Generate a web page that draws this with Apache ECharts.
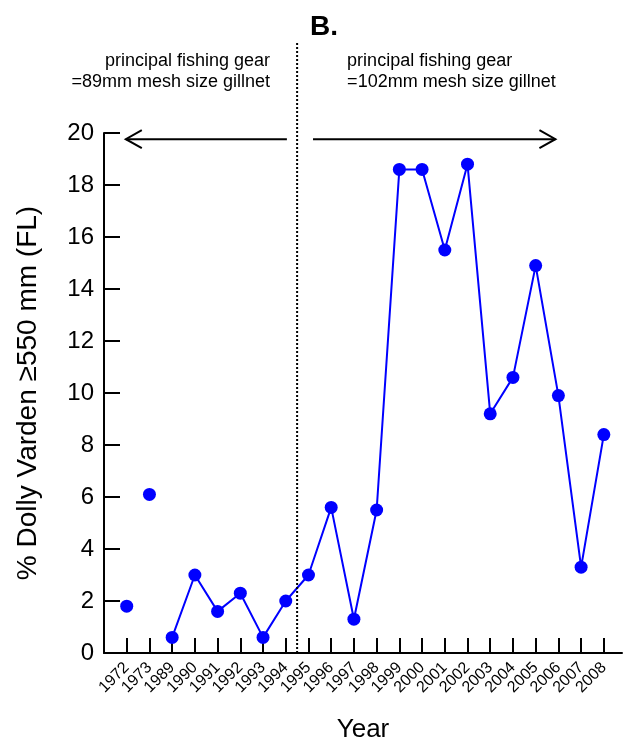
<!DOCTYPE html>
<html>
<head>
<meta charset="utf-8">
<script src="https://cdn.jsdelivr.net/npm/echarts@6/dist/echarts.min.js"></script>
<style>html,body{margin:0;padding:0;background:#fff}#c{width:624px;height:740px}</style>
</head>
<body>
<div id="c"></div>
<script>
// ---- data ----
var years = ['1972','1973','1989','1990','1991','1992','1993','1994','1995','1996','1997','1998','1999','2000','2001','2002','2003','2004','2005','2006','2007','2008'];
var pctLarge = [1.8, 6.1, 0.6, 3.0, 1.6, 2.3, 0.6, 2.0, 3.0, 5.6, 1.3, 5.5, 18.6, 18.6, 15.5, 18.8, 9.2, 10.6, 14.9, 9.9, 3.3, 8.4];
var joinedFromYear = '1989';           // points before this year are not joined by the line
var yTicks = [0, 2, 4, 6, 8, 10, 12, 14, 16, 18, 20];
var gearBreakBetween = ['1994', '1995'];
var leftGearText = ['principal fishing gear', '=89mm mesh size gillnet'];
var rightGearText = ['principal fishing gear', '=102mm mesh size gillnet'];
var arrowLevel = 19.76;
var leftArrowSpan = ['1972', '1994'];
var rightArrowSpan = ['1995', '2005'];

var FONT = '"Liberation Sans", Arial, Helvetica, sans-serif';
var BLUE = '#0000ff';
var joinIdx = years.indexOf(joinedFromYear);
var idxs = years.map(function (_, i) { return i; });
var loosePts = [], joinedPts = [];
pctLarge.forEach(function (v, i) { (i < joinIdx ? loosePts : joinedPts).push([i, v]); });

var chart = echarts.init(document.getElementById('c'), null, { renderer: 'canvas' });
chart.setOption({
  backgroundColor: '#fff',
  animation: false,
  title: {
    text: 'B.', left: 305, top: 8,
    textStyle: { fontFamily: FONT, fontSize: 28, fontWeight: 'bold', color: '#000' }
  },
  grid: { left: 104, right: 2, top: 133, bottom: 87, containLabel: false, outerBoundsMode: 'none' },
  xAxis: {
    type: 'value', min: -1, max: 21.8, interval: 1,
    splitLine: { show: false },
    axisLine: { show: true, onZero: false, lineStyle: { color: '#000', width: 2 } },
    axisTick: { show: true, inside: true, length: 15, customValues: idxs, lineStyle: { color: '#000', width: 2 } },
    axisLabel: {
      customValues: idxs, rotate: 45, margin: 12,
      fontFamily: FONT, fontSize: 16, color: '#000',
      formatter: function (v) { return years[Math.round(v)] || ''; }
    },
    name: 'Year', nameLocation: 'middle', nameGap: 64,
    nameTextStyle: { fontFamily: FONT, fontSize: 26, color: '#000' }
  },
  yAxis: {
    type: 'value', min: yTicks[0], max: yTicks[yTicks.length - 1], interval: 2,
    splitLine: { show: false },
    axisLine: { show: true, onZero: false, lineStyle: { color: '#000', width: 2 } },
    axisTick: { show: true, inside: true, length: 16, lineStyle: { color: '#000', width: 2 } },
    axisLabel: { margin: 10, fontFamily: FONT, fontSize: 24, color: '#000' },
    name: '% Dolly Varden \u2265550 mm (FL)', nameLocation: 'middle', nameGap: 62, nameRotate: 90,
    nameTextStyle: { fontFamily: FONT, fontSize: 28, color: '#000' }
  },
  series: [
    { type: 'scatter', data: loosePts, symbolSize: 13, itemStyle: { color: BLUE, opacity: 1 } },
    { type: 'line', data: joinedPts, symbol: 'circle', symbolSize: 13, showSymbol: true,
      itemStyle: { color: BLUE, opacity: 1 }, lineStyle: { color: BLUE, width: 2 } }
  ]
});

function px(x, y) { return chart.convertToPixel({ gridIndex: 0 }, [x, y]); }
var breakX = (years.indexOf(gearBreakBetween[0]) + years.indexOf(gearBreakBetween[1])) / 2;
var base = px(breakX, 0);
var xl = years.indexOf(leftArrowSpan[0]) - 0.04, xr = years.indexOf(leftArrowSpan[1]) + 0.05;
var xl2 = years.indexOf(rightArrowSpan[0]) + 0.2, xr2 = years.indexOf(rightArrowSpan[1]) - 0.13 + 1;
var a1 = px(xl, arrowLevel), a2 = px(xr, arrowLevel), b1 = px(xl2, arrowLevel), b2 = px(xr2, arrowLevel);
var AH = 16, AV = 9;
var stroke = { stroke: '#000', lineWidth: 2, fill: null };
chart.setOption({
  graphic: [
    { type: 'line', shape: { x1: base[0], y1: base[1], x2: base[0], y2: 43 },
      style: { stroke: '#000', lineWidth: 2, lineDash: [2, 2] }, z: 10 },
    { type: 'line', shape: { x1: a1[0], y1: a1[1], x2: a2[0], y2: a2[1] }, style: stroke },
    { type: 'polyline', shape: { points: [[a1[0] + AH, a1[1] - AV], [a1[0], a1[1]], [a1[0] + AH, a1[1] + AV]] }, style: stroke },
    { type: 'line', shape: { x1: b1[0], y1: b1[1], x2: b2[0], y2: b2[1] }, style: stroke },
    { type: 'polyline', shape: { points: [[b2[0] - AH, b2[1] - AV], [b2[0], b2[1]], [b2[0] - AH, b2[1] + AV]] }, style: stroke },
    { type: 'text', x: base[0] - 27, y: 51,
      style: { text: leftGearText.join('\n'), align: 'right', verticalAlign: 'top', lineHeight: 21,
               font: '18px ' + FONT, fill: '#000' } },
    { type: 'text', x: base[0] + 50, y: 51,
      style: { text: rightGearText.join('\n'), align: 'left', verticalAlign: 'top', lineHeight: 21,
               font: '18px ' + FONT, fill: '#000' } }
  ]
});
</script>
</body>
</html>
